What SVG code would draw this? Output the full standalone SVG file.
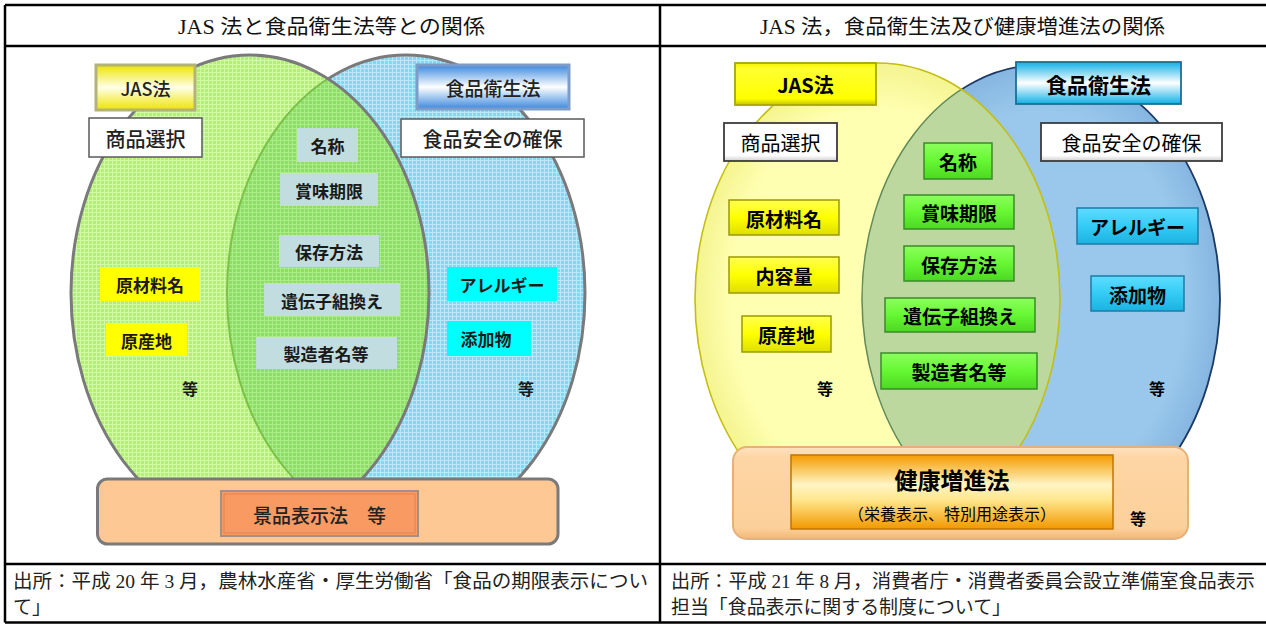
<svg xmlns="http://www.w3.org/2000/svg" width="1266" height="624" viewBox="0 0 1266 624">
<style>
.frame{stroke:#000;stroke-width:2.5;fill:none}
.title{font-family:"Liberation Serif","Noto Sans CJK JP",serif;font-size:20px;fill:#111}
.cap{font-family:"Liberation Serif","Noto Sans CJK JP",serif;font-size:19px;fill:#222}
.lt{font-family:"Noto Sans CJK JP",sans-serif;font-weight:500;fill:#222;text-anchor:middle;dominant-baseline:central}
.lb{font-family:"Noto Sans CJK JP",sans-serif;font-weight:bold;fill:#1a1a1a;text-anchor:middle;dominant-baseline:central}
.rb{font-family:"Noto Sans CJK JP",sans-serif;font-weight:bold;fill:#000;text-anchor:middle;dominant-baseline:central}
.rn{font-family:"Noto Sans CJK JP",sans-serif;fill:#000;text-anchor:middle;dominant-baseline:central}
.grey{fill:#c2dde0}
.yel{fill:#ffff00}
.cya{fill:#00ffff}
.wht{fill:#fff;stroke:#5a5a5a;stroke-width:1.5}
.gbox{fill:url(#gGreen);stroke:#3a8a2a;stroke-width:1.5}
.ybox{fill:url(#gYel);stroke:#9a9a00;stroke-width:1.5}
.cbox{fill:url(#gCya);stroke:#1a7ca8;stroke-width:1.5}
.wbox{fill:url(#gWht);stroke:#3c3c3c;stroke-width:1.8}
</style>
<defs>
<pattern id="pG" width="4" height="4" patternUnits="userSpaceOnUse"><rect width="4" height="4" fill="#b2ee78"/><path d="M0 0.5H4M0.5 0V4" stroke="#d2fca4" stroke-width="1"/></pattern>
<pattern id="pB" width="4" height="4" patternUnits="userSpaceOnUse"><rect width="4" height="4" fill="#84d6f6"/><path d="M0 0.5H4M0.5 0V4" stroke="#b6eaff" stroke-width="1"/></pattern>
<pattern id="pL" width="4" height="4" patternUnits="userSpaceOnUse"><rect width="4" height="4" fill="#8edd68"/><path d="M0 0.5H4M0.5 0V4" stroke="#aaec88" stroke-width="1"/></pattern>
<clipPath id="clipL"><ellipse cx="250" cy="293" rx="179" ry="238"/></clipPath>
<clipPath id="clipR"><ellipse cx="877.5" cy="299" rx="182.5" ry="236"/></clipPath>
<linearGradient id="gJasL" x1="0" y1="0" x2="0" y2="1"><stop offset="0" stop-color="#eee400"/><stop offset="0.5" stop-color="#ffffe8"/><stop offset="1" stop-color="#eee400"/></linearGradient>
<linearGradient id="gShokL" x1="0" y1="0" x2="0" y2="1"><stop offset="0" stop-color="#3a88de"/><stop offset="0.5" stop-color="#ffffff"/><stop offset="1" stop-color="#3a88de"/></linearGradient>
<linearGradient id="gShokR" x1="0" y1="0" x2="0" y2="1"><stop offset="0" stop-color="#10b0e6"/><stop offset="0.5" stop-color="#ffffff"/><stop offset="1" stop-color="#10b0e6"/></linearGradient>
<linearGradient id="gJasR" x1="0" y1="0" x2="0" y2="1"><stop offset="0" stop-color="#f4f400"/><stop offset="0.15" stop-color="#ffff30"/><stop offset="0.85" stop-color="#ffff00"/><stop offset="1" stop-color="#c4c400"/></linearGradient>
<linearGradient id="gGreen" x1="0" y1="0" x2="0" y2="1"><stop offset="0" stop-color="#8cff5c"/><stop offset="0.5" stop-color="#66f733"/><stop offset="1" stop-color="#4cd822"/></linearGradient>
<linearGradient id="gYel" x1="0" y1="0" x2="0" y2="1"><stop offset="0" stop-color="#ffff50"/><stop offset="0.5" stop-color="#ffff00"/><stop offset="1" stop-color="#dede00"/></linearGradient>
<linearGradient id="gCya" x1="0" y1="0" x2="0" y2="1"><stop offset="0" stop-color="#5fdcff"/><stop offset="0.5" stop-color="#33ccf6"/><stop offset="1" stop-color="#1cb2e0"/></linearGradient>
<linearGradient id="gWht" x1="0" y1="0" x2="0" y2="1"><stop offset="0" stop-color="#ffffff"/><stop offset="0.85" stop-color="#ffffff"/><stop offset="1" stop-color="#d0d0d0"/></linearGradient>
<linearGradient id="gKen" x1="0" y1="0" x2="0" y2="1"><stop offset="0" stop-color="#f59c00"/><stop offset="0.4" stop-color="#fff4c4"/><stop offset="0.6" stop-color="#ffe890"/><stop offset="1" stop-color="#f29800"/></linearGradient>
<linearGradient id="gPeach" x1="0" y1="0" x2="0" y2="1"><stop offset="0" stop-color="#ffe2c0"/><stop offset="0.12" stop-color="#fdd5a4"/><stop offset="0.88" stop-color="#fcd09a"/><stop offset="1" stop-color="#f0b878"/></linearGradient>
<radialGradient id="gYE" cx="0.5" cy="0.5" r="0.5"><stop offset="0.8" stop-color="#ffffb2"/><stop offset="1" stop-color="#f4f490"/></radialGradient>
<radialGradient id="gBE" cx="0.5" cy="0.5" r="0.5"><stop offset="0.8" stop-color="#9ac8ec"/><stop offset="1" stop-color="#86b6e0"/></radialGradient>
</defs>

<g id="table">
<path class="frame" d="M5 5H1266M5 46H1266M5 564H1266M5 622.5H1266M5 5V622.5M660 5V622.5"/>
<text class="title" x="178" y="34" textLength="307" lengthAdjust="spacingAndGlyphs">JAS 法と食品衛生法等との関係</text>
<text class="title" x="760" y="34" textLength="405" lengthAdjust="spacingAndGlyphs">JAS 法，食品衛生法及び健康増進法の関係</text>
<text class="cap" x="13" y="588" textLength="635" lengthAdjust="spacingAndGlyphs">出所：平成 20 年 3 月，農林水産省・厚生労働省「食品の期限表示につい</text>
<text class="cap" x="13" y="614">て」</text>
<text class="cap" x="671" y="588" textLength="584" lengthAdjust="spacingAndGlyphs">出所：平成 21 年 8 月，消費者庁・消費者委員会設立準備室食品表示</text>
<text class="cap" x="671" y="614" textLength="340" lengthAdjust="spacingAndGlyphs">担当「食品表示に関する制度について」</text>
</g>

<!-- LEFT PANEL -->
<g id="left-venn">
<ellipse cx="406" cy="293" rx="179" ry="238" fill="url(#pB)" stroke="#7a7a7a" stroke-width="3"/>
<ellipse cx="250" cy="293" rx="179" ry="238" fill="url(#pG)"/>
<ellipse cx="406" cy="293" rx="179" ry="238" fill="url(#pL)" stroke="#7cc24a" stroke-width="2" clip-path="url(#clipL)"/>
<ellipse cx="250" cy="293" rx="179" ry="238" fill="none" stroke="#7a7a7a" stroke-width="3"/>
</g>
<g id="l-jas"><rect x="96" y="65" width="99" height="45" fill="url(#gJasL)" stroke="#b2b27a" stroke-width="3"/><text class="lt" x="145.5" y="88" font-size="18">JAS法</text></g>
<g id="l-shohin"><rect class="wht" x="89" y="118" width="113" height="39"/><text class="lt" x="145.5" y="138" font-size="20">商品選択</text></g>
<g id="l-shokuei"><rect x="417" y="65" width="152" height="44" fill="url(#gShokL)" stroke="#7e9cc8" stroke-width="3"/><text class="lt" x="493" y="87.5" font-size="19">食品衛生法</text></g>
<g id="l-anzen"><rect class="wht" x="401" y="119" width="183" height="38"/><text class="lt" x="492.5" y="138.5" font-size="20">食品安全の確保</text></g>
<g id="l-meisho"><rect class="grey" x="297" y="128" width="61" height="34"/><text class="lb" x="327.5" y="145.5" font-size="17">名称</text></g>
<g id="l-shomi"><rect class="grey" x="280" y="173" width="98" height="33"/><text class="lb" x="329" y="190" font-size="17">賞味期限</text></g>
<g id="l-hozon"><rect class="grey" x="279" y="235" width="100" height="32"/><text class="lb" x="329" y="251.5" font-size="17">保存方法</text></g>
<g id="l-iden"><rect class="grey" x="264" y="283" width="136" height="33"/><text class="lb" x="332" y="300" font-size="17">遺伝子組換え</text></g>
<g id="l-seizo"><rect class="grey" x="256" y="337" width="141" height="32"/><text class="lb" x="326" y="353.5" font-size="17">製造者名等</text></g>
<g id="l-genzai"><rect class="yel" x="100" y="267" width="100" height="34"/><text class="lb" x="150" y="284.5" font-size="17">原材料名</text></g>
<g id="l-gensan"><rect class="yel" x="106" y="323" width="81" height="33"/><text class="lb" x="146.5" y="340" font-size="17">原産地</text></g>
<g id="l-aller"><rect class="cya" x="447" y="267" width="110" height="34"/><text class="lb" x="502" y="284.5" font-size="17">アレルギー</text></g>
<g id="l-tenka"><rect class="cya" x="447" y="321" width="84" height="35"/><text class="lb" x="486" y="338.5" font-size="17">添加物</text></g>
<g id="l-to1"><text class="lb" x="190" y="388" font-size="16">等</text></g>
<g id="l-to2"><text class="lb" x="526" y="388" font-size="16">等</text></g>
<g id="l-bottom"><rect x="97.5" y="479" width="460.5" height="65" rx="10" fill="#fdc894" stroke="#7a7a7a" stroke-width="3"/></g>
<g id="l-keihin"><rect x="221" y="491" width="197" height="45" fill="#f99a62" stroke="#a09088" stroke-width="2"/><rect x="224" y="494" width="191" height="39" fill="none" stroke="#e0824e" stroke-width="1"/><text class="lt" x="319.5" y="514" font-size="19">景品表示法　等</text></g>

<!-- RIGHT PANEL -->
<g id="right-venn">
<ellipse cx="1041" cy="299" rx="179" ry="234" fill="url(#gBE)" stroke="#1c3a66" stroke-width="1.8"/>
<ellipse cx="877.5" cy="299" rx="182.5" ry="236" fill="url(#gYE)"/>
<ellipse cx="1041" cy="299" rx="179" ry="234" fill="#bcd89e" stroke="#5f8a5a" stroke-width="1.5" clip-path="url(#clipR)"/>
<ellipse cx="877.5" cy="299" rx="182.5" ry="236" fill="none" stroke="#c4be10" stroke-width="1.6"/>
</g>
<g id="r-jas"><rect x="735" y="63" width="141" height="42" fill="url(#gJasR)" stroke="#a8a800" stroke-width="1.8"/><text class="rb" x="805.5" y="84.5" font-size="20">JAS法</text></g>
<g id="r-shokuei"><rect x="1016" y="62" width="165" height="42" fill="url(#gShokR)" stroke="#1a6f96" stroke-width="1.8"/><text class="rb" x="1098.5" y="83.5" font-size="21">食品衛生法</text></g>
<g id="r-shohin"><rect class="wbox" x="724" y="123" width="113" height="38"/><text class="rn" x="780.5" y="142.5" font-size="20">商品選択</text></g>
<g id="r-anzen"><rect class="wbox" x="1041" y="123" width="181" height="38"/><text class="rn" x="1131.5" y="142.5" font-size="20">食品安全の確保</text></g>
<g id="r-meisho"><rect class="gbox" x="924" y="143" width="68" height="36"/><text class="rb" x="958" y="161.5" font-size="19">名称</text></g>
<g id="r-shomi"><rect class="gbox" x="904" y="195" width="110" height="34"/><text class="rb" x="959" y="212.5" font-size="19">賞味期限</text></g>
<g id="r-hozon"><rect class="gbox" x="904" y="246" width="110" height="35"/><text class="rb" x="959" y="264" font-size="19">保存方法</text></g>
<g id="r-iden"><rect class="gbox" x="885" y="298" width="150" height="34"/><text class="rb" x="960" y="315.5" font-size="19">遺伝子組換え</text></g>
<g id="r-seizo"><rect class="gbox" x="881" y="353" width="156" height="36"/><text class="rb" x="959" y="371.5" font-size="19">製造者名等</text></g>
<g id="r-genzai"><rect class="ybox" x="729" y="200" width="110" height="35"/><text class="rb" x="784" y="218" font-size="19">原材料名</text></g>
<g id="r-naiyo"><rect class="ybox" x="729" y="257" width="110" height="36"/><text class="rb" x="784" y="275.5" font-size="19">内容量</text></g>
<g id="r-gensan"><rect class="ybox" x="742" y="316" width="89" height="36"/><text class="rb" x="786.5" y="334.5" font-size="19">原産地</text></g>
<g id="r-aller"><rect class="cbox" x="1077" y="208" width="121" height="36"/><text class="rb" x="1137.5" y="226.5" font-size="19">アレルギー</text></g>
<g id="r-tenka"><rect class="cbox" x="1091" y="276" width="93" height="35"/><text class="rb" x="1137.5" y="294" font-size="19">添加物</text></g>
<g id="r-to1"><text class="rb" x="825" y="388" font-size="16">等</text></g>
<g id="r-to2"><text class="rb" x="1157" y="388" font-size="16">等</text></g>
<g id="r-bottom"><rect x="733" y="447" width="455" height="92" rx="14" fill="url(#gPeach)" stroke="#e6b078" stroke-width="2"/></g>
<g id="r-kenko"><rect x="791" y="455" width="322" height="74" fill="url(#gKen)" stroke="#c27400" stroke-width="1.5"/><text class="rb" x="952" y="479" font-size="23">健康増進法</text><text class="rn" x="952" y="513" font-size="16">（栄養表示、特別用途表示）</text></g>
<g id="r-to3"><text class="rb" x="1138" y="518" font-size="16">等</text></g>
</svg>
